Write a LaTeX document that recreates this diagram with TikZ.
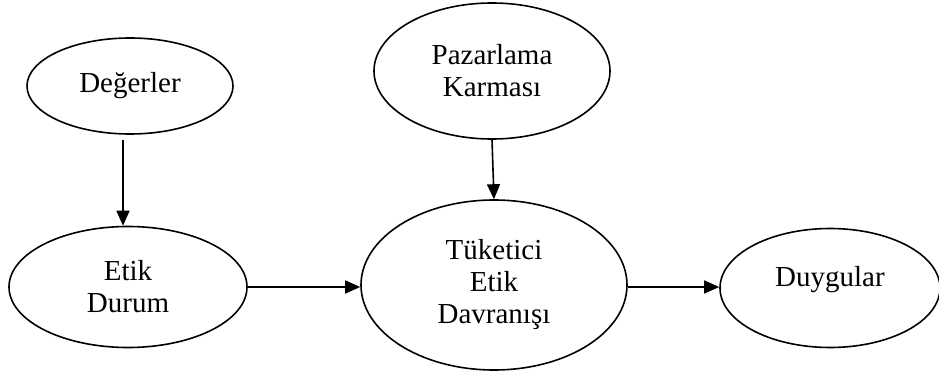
\documentclass[tikz,border=0pt]{standalone}
\usepackage{fontspec}
\setmainfont{Liberation Serif}
\usetikzlibrary{shapes.geometric,arrows.meta}
\begin{document}
\begin{tikzpicture}[x=1pt,y=-1pt,
  oval/.style={draw, line width=1.6pt, ellipse, inner sep=0pt, align=center,
    font=\fontsize{29}{32}\selectfont},
  arr/.style={line width=1.6pt, -{Triangle[length=15pt,width=13pt]}}]
\useasboundingbox (0,0) rectangle (939,374);
\node[oval, minimum width=206pt, minimum height=96pt] (deg) at (130,86) {Değerler};
\node[oval, minimum width=236pt, minimum height=136pt] (paz) at (492,71) {Pazarlama\\Karması};
\node[oval, minimum width=238pt, minimum height=121pt] (etik) at (128,287) {Etik\\Durum};
\node[oval, minimum width=266pt, minimum height=170pt] (tuk) at (494,285) {Tüketici\\Etik\\Davranışı};
\node[oval, minimum width=220pt, minimum height=119pt, text height=20pt, text depth=23pt] (duy) at (830,288) {Duygular};
\draw[arr] ([xshift=-7pt,yshift=-5pt]deg.south) -- ([xshift=-5pt]etik.north);
\draw[arr] (paz.south) -- (tuk.north);
\draw[arr] (etik.east) -- (etik.east -| tuk.west);
\draw[arr] ([yshift=-2pt]tuk.east) -- ([yshift=-2pt]tuk.east -| duy.west);
\end{tikzpicture}
\end{document}
